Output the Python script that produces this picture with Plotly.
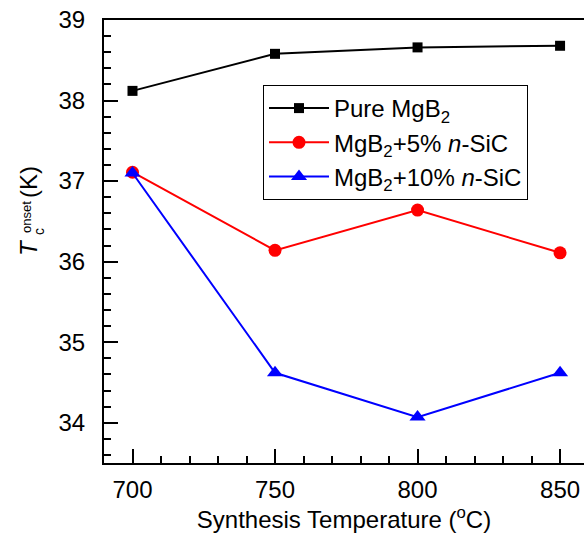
import plotly.graph_objects as go

temps = [700, 750, 800, 850]
pure_mgb2 = [38.12, 38.58, 38.66, 38.68]
sic_5 = [37.11, 36.14, 36.64, 36.11]
sic_10 = [37.10, 34.62, 34.07, 34.62]

names = ["Pure MgB<sub>2</sub>", "MgB<sub>2</sub>+5% <i>n</i>-SiC", "MgB<sub>2</sub>+10% <i>n</i>-SiC"]
colors = ["#000000", "#FF0000", "#0000FF"]
symbols = ["square", "circle", "triangle-up"]
sizes = [10, 13, 14]

FONT = "Liberation Sans, Arial, sans-serif"

fig = go.Figure()
for ys, nm, c, s, sz in zip([pure_mgb2, sic_5, sic_10], names, colors, symbols, sizes):
    fig.add_trace(go.Scatter(x=temps, y=ys, name=nm, mode="lines+markers",
                             line=dict(color=c, width=2),
                             marker=dict(color=c, symbol=s, size=sz)))

W, H = 584, 542
L, R, T, B = 104, 0, 20, 79
pw, ph = W - L - R, H - T - B

def px(x):
    return (x - L) / pw

def py(y):
    return (H - B - y) / ph

fig.update_layout(
    width=W, height=H,
    margin=dict(l=L, r=R, t=T, b=B),
    paper_bgcolor="white", plot_bgcolor="white",
    font=dict(family=FONT, size=24, color="black"),
    showlegend=True,
    legend=dict(x=px(263), y=py(85), xanchor="left", yanchor="top",
                bgcolor="white", bordercolor="black", borderwidth=1,
                font=dict(size=24), tracegroupgap=0, itemwidth=60),
    xaxis=dict(range=[690, 858.4], tickmode="array", tickvals=temps,
               ticks="inside", ticklen=14, tickwidth=2, tickcolor="black",
               showline=True, linewidth=2, linecolor="black", mirror=True,
               showgrid=False, zeroline=False, ticklabelstandoff=4,
               tickfont=dict(size=24),
               minor=dict(ticks="inside", ticklen=7, tickwidth=2, tickcolor="black", dtick=10, tick0=700, showgrid=False),
               title=dict(text="Synthesis Temperature (<sup>o</sup>C)", font=dict(size=24), standoff=6)),
    yaxis=dict(range=[33.5, 39], tick0=34, dtick=1,
               ticks="inside", ticklen=14, tickwidth=2, tickcolor="black",
               showline=True, linewidth=2, linecolor="black", mirror=False,
               showgrid=False, zeroline=False, ticklabelstandoff=12,
               tickfont=dict(size=24),
               minor=dict(ticks="inside", ticklen=7, tickwidth=2, tickcolor="black", dtick=0.2, tick0=34, showgrid=False)),
)

# Y axis title built from pieces (stacked sub/superscript)
ann = [
    ("<i>T</i>", 28, 248, 24),
    ("c", 39, 232, 14),
    ("onset", 26, 217, 13),
    ("(K)", 28, 182, 24),
]
for txt, x, y, fs in ann:
    fig.add_annotation(text=txt, x=px(x), y=py(y), xref="paper", yref="paper",
                       xanchor="center", yanchor="middle", showarrow=False,
                       textangle=-90, font=dict(size=fs, family=FONT, color="black"))

fig.write_html("out.html")
